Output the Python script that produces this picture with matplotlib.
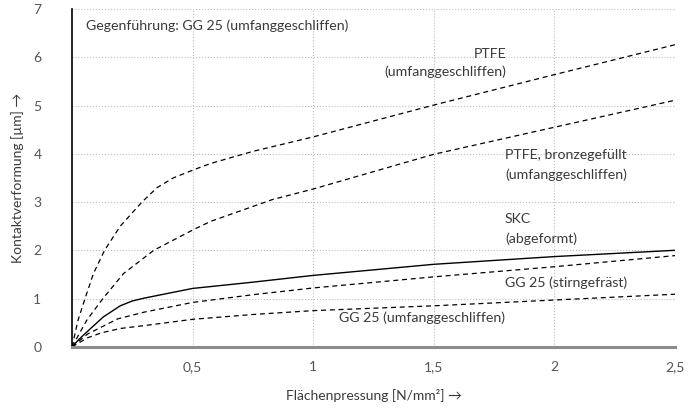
import matplotlib
matplotlib.use("Agg")
import matplotlib.pyplot as plt

plt.rcParams["font.family"] = ["Lato", "DejaVu Sans"]

TEXT_COLOR = "#3a3a3a"
GRID_COLOR = "#bdbdbd"

# values (x in N/mm², y in µm)
ptfe_x = [0, 0.025, 0.054, 0.089, 0.135, 0.2, 0.29, 0.353, 0.42, 0.5, 0.575, 0.75, 1.0, 1.5, 2.0, 2.5]
ptfe_y = [0, 0.55, 1.0, 1.52, 2.0, 2.5, 3.0, 3.3, 3.5, 3.66, 3.8, 4.05, 4.35, 5.01, 5.64, 6.26]

bronze_x = [0, 0.061, 0.128, 0.214, 0.339, 0.5, 0.575, 0.83, 1.0, 1.5, 2.0, 2.5]
bronze_y = [0, 0.55, 1.0, 1.52, 2.0, 2.42, 2.6, 3.05, 3.27, 3.99, 4.55, 5.11]

skc_x = [0, 0.03, 0.075, 0.13, 0.2, 0.25, 0.3, 0.5, 0.75, 1.0, 1.5, 2.0, 2.5]
skc_y = [0, 0.16, 0.37, 0.62, 0.85, 0.95, 1.01, 1.21, 1.34, 1.48, 1.71, 1.87, 2.0]

stirn_x = [0, 0.066, 0.122, 0.19, 0.3, 0.5, 0.75, 1.0, 1.5, 2.0, 2.5]
stirn_y = [0, 0.27, 0.41, 0.58, 0.72, 0.92, 1.08, 1.22, 1.45, 1.66, 1.89]

gg_x = [0, 0.066, 0.122, 0.2, 0.3, 0.5, 0.75, 1.0, 1.5, 2.0, 2.5]
gg_y = [0, 0.19, 0.29, 0.38, 0.44, 0.57, 0.67, 0.75, 0.85, 0.97, 1.09]

x_ticks = [0.5, 1, 1.5, 2, 2.5]
x_tick_labels = ["0,5", "1", "1,5", "2", "2,5"]
y_ticks = [0, 1, 2, 3, 4, 5, 6, 7]

fig = plt.figure(figsize=(6.99, 4.09), dpi=100)
ax = fig.add_axes([0.103, 0.152, 0.8627, 0.826])

dash = (0, (4, 3))
line_kw = dict(color="black", solid_joinstyle="round", dash_joinstyle="round")
ax.plot(ptfe_x, ptfe_y, lw=0.9, linestyle=dash, **line_kw)
ax.plot(bronze_x, bronze_y, lw=0.9, linestyle=dash, **line_kw)
ax.plot(skc_x, skc_y, lw=1.0, **line_kw)
ax.plot(stirn_x, stirn_y, lw=0.9, linestyle=dash, **line_kw)
ax.plot(gg_x, gg_y, lw=0.9, linestyle=dash, **line_kw)

ax.set_xlim(0, 2.5)
ax.set_ylim(0, 7)
ax.set_xticks(x_ticks)
ax.set_xticklabels(x_tick_labels)
ax.set_yticks(y_ticks)
ax.tick_params(length=0, labelsize=10, colors="#555555")
ax.tick_params(axis="y", pad=22)
ax.tick_params(axis="x", pad=10)

ax.grid(True, linestyle=":", linewidth=0.8, color=GRID_COLOR)
ax.set_axisbelow(True)

for side in ["top", "right"]:
    ax.spines[side].set_visible(False)
ax.spines["left"].set_color("black")
ax.spines["left"].set_linewidth(1.2)
ax.spines["bottom"].set_color("#8c8c8c")
ax.spines["bottom"].set_linewidth(2.2)

ax.set_xlabel("Flächenpressung [N/mm²] →", fontsize=10, color=TEXT_COLOR, labelpad=12)
ax.set_ylabel("Kontaktverformung [µm] →", fontsize=10, color=TEXT_COLOR, labelpad=7)

label_kw = dict(fontsize=10.2, color=TEXT_COLOR)
ax.text(0.06, 6.66, "Gegenführung: GG 25 (umfanggeschliffen)", ha="left", va="center", **label_kw)
ax.text(1.8, 6.07, "PTFE", ha="right", va="center", **label_kw)
ax.text(1.8, 5.7, "(umfanggeschliffen)", ha="right", va="center", **label_kw)
ax.text(1.795, 3.98, "PTFE, bronzegefüllt", ha="left", va="center", **label_kw)
ax.text(1.795, 3.57, "(umfanggeschliffen)", ha="left", va="center", **label_kw)
ax.text(1.795, 2.65, "SKC", ha="left", va="center", **label_kw)
ax.text(1.795, 2.24, "(abgeformt)", ha="left", va="center", **label_kw)
ax.text(1.795, 1.32, "GG 25 (stirngefräst)", ha="left", va="center", **label_kw)
ax.text(1.105, 0.60, "GG 25 (umfanggeschliffen)", ha="left", va="center", **label_kw)

fig.savefig("out.png", dpi=100)
